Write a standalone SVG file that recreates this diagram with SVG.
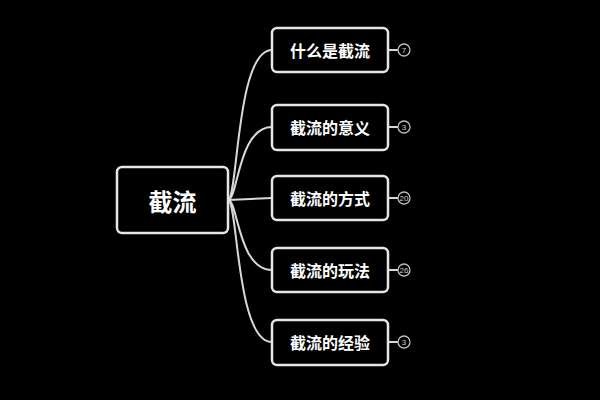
<svg xmlns="http://www.w3.org/2000/svg" width="600" height="400" viewBox="0 0 600 400">
<style>
.box{fill:#000;stroke:#e6e6e6;stroke-width:2.5}
.t{fill:#fff;font-family:"Noto Sans CJK SC",sans-serif;font-weight:bold;text-anchor:middle;dominant-baseline:central}
.c{fill:none;stroke:#d8d8d8;stroke-width:2}
.b{fill:#000;stroke:#bbb;stroke-width:1.3}
.n{fill:#ccc;font-family:"Liberation Sans",sans-serif;font-size:8px;text-anchor:middle;dominant-baseline:central}
</style>
<rect width="600" height="400" fill="#000"/>
<g id="connectors">
<path class="c" d="M228 200 C238 200 236 50 272 50"/>
<path class="c" d="M228 200 C238 200 238 127 272 127"/>
<path class="c" d="M228 200 L272 198"/>
<path class="c" d="M228 200 C238 200 238 270 272 270"/>
<path class="c" d="M228 200 C238 200 236 342 272 342"/>
<path class="c" d="M388 50 H398 M388 127 H398 M388 198 H398 M388 270 H398 M388 342 H398"/>
</g>
<g id="root"><rect class="box" x="117" y="167" width="111" height="66" rx="5"/><text class="t" x="172.5" y="200" font-size="24">截流</text></g>
<g id="n1"><rect class="box" x="272" y="28" width="116" height="44" rx="5"/><text class="t" x="330" y="50" font-size="16">什么是截流</text><circle class="b" cx="404" cy="50" r="6"/><text class="n" x="404" y="50">7</text></g>
<g id="n2"><rect class="box" x="272" y="105" width="116" height="45" rx="5"/><text class="t" x="330" y="127" font-size="16">截流的意义</text><circle class="b" cx="404" cy="127" r="6"/><text class="n" x="404" y="127">3</text></g>
<g id="n3"><rect class="box" x="272" y="176" width="116" height="44" rx="5"/><text class="t" x="330" y="198" font-size="16">截流的方式</text><circle class="b" cx="404" cy="198" r="6"/><text class="n" x="404" y="198" font-size="7">20</text></g>
<g id="n4"><rect class="box" x="272" y="248" width="116" height="44" rx="5"/><text class="t" x="330" y="270" font-size="16">截流的玩法</text><circle class="b" cx="404" cy="270" r="6"/><text class="n" x="404" y="270" font-size="7">26</text></g>
<g id="n5"><rect class="box" x="272" y="320" width="116" height="45" rx="5"/><text class="t" x="330" y="342" font-size="16">截流的经验</text><circle class="b" cx="404" cy="342" r="6"/><text class="n" x="404" y="342">3</text></g>
</svg>
